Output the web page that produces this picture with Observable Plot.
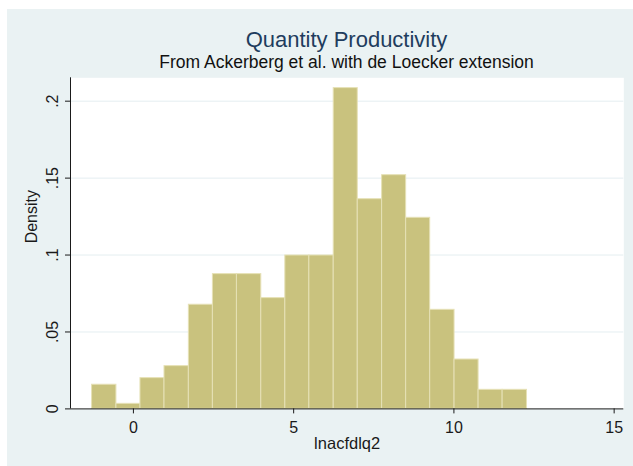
<!DOCTYPE html>
<html>
<head>
<meta charset="utf-8">
<script src="https://cdn.jsdelivr.net/npm/d3@7"></script>
<script src="https://cdn.jsdelivr.net/npm/@observablehq/plot@0.6"></script>
<style>
  body { margin: 0; background: #fff; }
  #chart { position: relative; width: 633px; height: 466px; background: #fff; overflow: hidden;
           font-family: "Liberation Sans", Arial, sans-serif; }
  #region { position: absolute; left: 7px; top: 9px; right: 0; bottom: 0; background: #eaf2f3; }
  .title { position: absolute; left: 70px; width: 553px; text-align: center; white-space: nowrap; }
  #t1 { top: 29px; font-size: 22px; line-height: 22px; color: #1f3d5e; }
  #t2 { top: 53.7px; font-size: 17.5px; line-height: 17.5px; color: #111; }
  #plot { position: absolute; left: 7px; top: 70px; }
</style>
</head>
<body>
<div id="chart">
  <div id="region"></div>
  <div class="title" id="t1">Quantity Productivity</div>
  <div class="title" id="t2">From Ackerberg et al. with de Loecker extension</div>
  <div id="plot"></div>
</div>
<script>
// Histogram bins of lnacfdlq2: bin edges and density per bin
const binEdges = [-1.29, -0.53, 0.22, 0.97, 1.73, 2.48, 3.23, 3.99, 4.74, 5.49,
                  6.25, 7.00, 7.76, 8.51, 9.26, 10.02, 10.77, 11.52, 12.28];
const density = [0.0157, 0.0033, 0.0200, 0.0278, 0.0677, 0.0876, 0.0876, 0.0720, 0.0997,
                 0.0997, 0.2085, 0.1363, 0.1519, 0.1242, 0.0644, 0.0321, 0.0124, 0.0124];

// Axes
const xDomain = [-1.963, 15.301];
const yDomain = [0, 0.2152];
const xTicks = [0, 5, 10, 15];
const yTicks = [0, 0.05, 0.1, 0.15, 0.2];
const yTickLabels = ["0", ".05", ".1", ".15", ".2"];
const xLabel = "lnacfdlq2";
const yLabel = "Density";

const bins = density.map((d, i) => ({x1: binEdges[i], x2: binEdges[i + 1], density: d}));

const axisColor = "#1a1a1a";

const chart = Plot.plot({
  width: 626,
  height: 396,
  marginLeft: 63,
  marginRight: 9.7,
  marginTop: 7.3,
  marginBottom: 57.6,
  style: {background: "transparent", fontFamily: "'Liberation Sans', Arial, sans-serif", fontSize: "16px", color: axisColor},
  x: {domain: xDomain},
  y: {domain: yDomain},
  marks: [
    Plot.frame({fill: "white", stroke: "none"}),
    Plot.ruleY(yTicks.filter((v) => v > 0), {stroke: "#e4eef1", strokeWidth: 1}),
    Plot.rect(bins, {x1: "x1", x2: "x2", y1: 0, y2: "density", fill: "#c9c27e", stroke: "#e6e1b6", strokeWidth: 1}),
    Plot.ruleY([yDomain[0]], {stroke: axisColor, strokeWidth: 1}),
    Plot.ruleX([xDomain[0]], {stroke: axisColor, strokeWidth: 1}),
    Plot.axisX(xTicks, {tickSize: 5, tickPadding: 7.5, label: null, fontSize: 16}),
    Plot.axisY(yTicks, {tickSize: 5, tickPadding: 8, tickRotate: -90, label: null, fontSize: 16,
                        tickFormat: (d) => yTickLabels[yTicks.indexOf(d)]}),
    Plot.text([xLabel], {text: (d) => d, frameAnchor: "bottom", dy: 39.6, lineAnchor: "bottom", fontSize: 16.5}),
    Plot.text([yLabel], {text: (d) => d, frameAnchor: "left", rotate: -90, dx: -33.5, lineAnchor: "bottom", fontSize: 16})
  ]
});

document.getElementById("plot").appendChild(chart);
</script>
</body>
</html>
